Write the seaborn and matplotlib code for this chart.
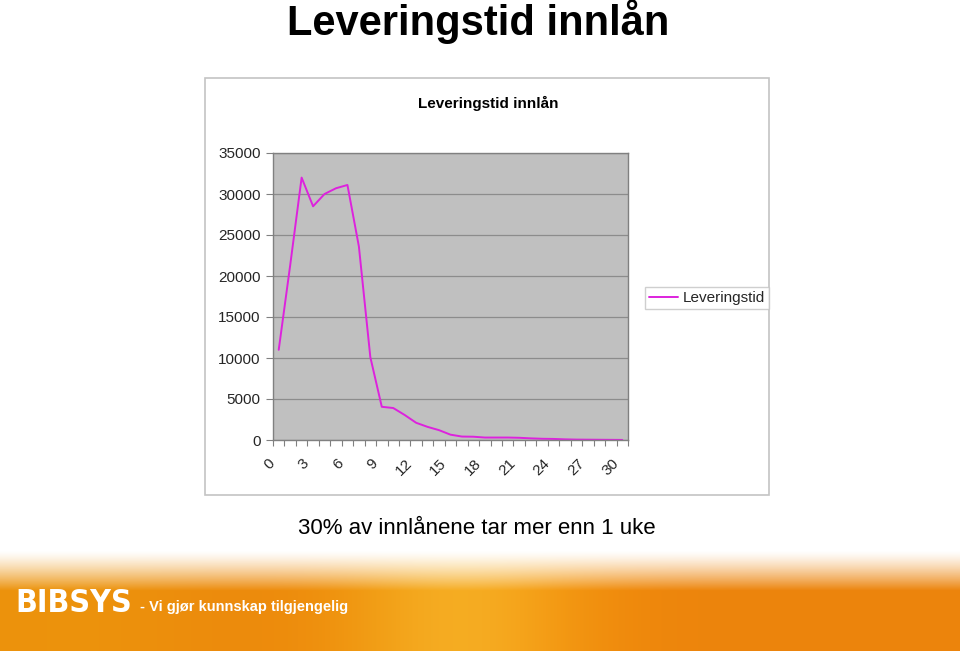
import numpy as np
import pandas as pd
import matplotlib
matplotlib.use("Agg")
import matplotlib.pyplot as plt
import matplotlib.transforms as mtransforms
from matplotlib.patches import Rectangle
import seaborn as sns

# ---- data ----
days = list(range(31))
leveringstid = [11000, 21300, 32000, 28500, 30000, 30700, 31100, 23600, 10100, 4050,
                3900, 3050, 2100, 1600, 1200, 650, 420, 400, 300, 300,
                300, 270, 200, 150, 130, 80, 50, 40, 30, 20, 10]
x_tick_values = list(range(0, 31, 3))
y_tick_values = list(range(0, 35001, 5000))
series_name = "Leveringstid"
slide_title = "Leveringstid innlån"
chart_title = "Leveringstid innlån"
caption = "30% av innlånene tar mer enn 1 uke"

sns.set_theme(style="white")
plt.rcParams['font.family'] = ['Liberation Sans', 'DejaVu Sans']

W, H = 960, 651
fig = plt.figure(figsize=(W / 100, H / 100), dpi=100)
fig.patch.set_facecolor("white")

def fx(px):
    return px / W

def fy(py):
    return 1 - py / H

# slide title
fig.text(fx(478), fy(22), slide_title, ha="center", va="center",
         fontsize=30, fontweight="bold", color="black")

# chart frame
frame = Rectangle((fx(205), fy(495)), fx(769) - fx(205), fy(78) - fy(495),
                  transform=fig.transFigure, facecolor="white",
                  edgecolor="#c4c4c4", linewidth=1.2, zorder=-5)
fig.patches.append(frame)

fig.text(fx(488), fy(103), chart_title, ha="center", va="center",
         fontsize=11, fontweight="bold", color="black")

# plot area
ax = fig.add_axes([fx(273), fy(440), fx(628) - fx(273), fy(153) - fy(440)])
ax.set_zorder(2)
ax.set_facecolor("#c0c0c0")

df = pd.DataFrame({"dag": days, series_name: leveringstid})
sns.lineplot(data=df, x="dag", y=series_name, ax=ax, color="#dd22dd",
             linewidth=1.4, label=series_name)

ax.set_xlim(-0.5, 30.5)
ax.set_ylim(0, 35000)
ax.set_yticks(y_tick_values)
ax.set_yticklabels([str(v) for v in y_tick_values], fontsize=11)
ax.yaxis.grid(True, color="#8c8c8c", linewidth=0.9)
ax.set_axisbelow(True)
ax.tick_params(axis="y", which="major", length=5, width=0.8, color="#808080",
               direction="out", pad=4, left=True)

ax.set_xticks(x_tick_values)
ax.set_xticklabels([str(v) for v in x_tick_values], fontsize=11,
                   rotation=45, ha="right", rotation_mode="anchor")
ax.set_xticks(np.arange(-0.5, 31, 1), minor=True)
ax.tick_params(axis="x", which="major", length=0, pad=12, bottom=True)
ax.tick_params(axis="x", which="minor", length=4, width=0.8, color="#808080",
               direction="out", bottom=True)
shift = mtransforms.ScaledTranslation(-11 / 100, 0, fig.dpi_scale_trans)
for lab in ax.get_xticklabels():
    lab.set_transform(lab.get_transform() + shift)
ax.set_xlabel("")
ax.set_ylabel("")
for s in ax.spines.values():
    s.set_color("#808080")
    s.set_linewidth(1.0)

leg_x = (645 - 273) / (628 - 273)
leg = ax.legend(loc="center left", bbox_to_anchor=(leg_x, 0.495),
                frameon=True, fancybox=False, fontsize=11, handlelength=1.9,
                borderpad=0.25, handletextpad=0.3, borderaxespad=0)
leg.get_frame().set_edgecolor("#c4c4c4")
leg.get_frame().set_linewidth(1.0)

# caption
fig.text(fx(477), fy(528), caption, ha="center", va="center",
         fontsize=16, color="black")

# banner (decorative gradient)
bh = 106
bax = fig.add_axes([0, 0, 1, bh / H])
yy = np.linspace(0, 1, bh)[:, None]
xx = np.linspace(0, 1, W)[None, :]
base_r = 236 + 10 * np.exp(-((xx - 0.5) / 0.15) ** 2)
base_g = 132 + 40 * np.exp(-((xx - 0.48) / 0.13) ** 2) + 15 * np.exp(-((xx - 0.05) / 0.2) ** 2)
base_b = 12 + 22 * np.exp(-((xx - 0.48) / 0.10) ** 2)
t = np.clip((yy - 0.05) / 0.38, 0, 1) ** 1.3
r = 255 * (1 - t) + base_r * t
g = 255 * (1 - t) + base_g * t
b = 255 * (1 - t) + base_b * t
img = np.dstack([np.broadcast_to(r, (bh, W)), np.broadcast_to(g, (bh, W)),
                 np.broadcast_to(b, (bh, W))]) / 255.0
bax.imshow(np.clip(img, 0, 1), aspect="auto", extent=[0, 1, 0, 1], origin="upper")
bax.set_xlim(0, 1)
bax.set_ylim(0, 1)
bax.axis("off")
bax.text(15 / W, (651 - 603) / bh, "BIBSYS", ha="left", va="center",
         fontsize=23, fontweight="bold", color="white",
         family=["DejaVu Sans"], fontstretch="condensed")
bax.text(140 / W, (651 - 607) / bh, "- Vi gjør kunnskap tilgjengelig", ha="left",
         va="center", fontsize=10.5, fontweight="bold", color="white")

fig.savefig("out.png", dpi=100)
